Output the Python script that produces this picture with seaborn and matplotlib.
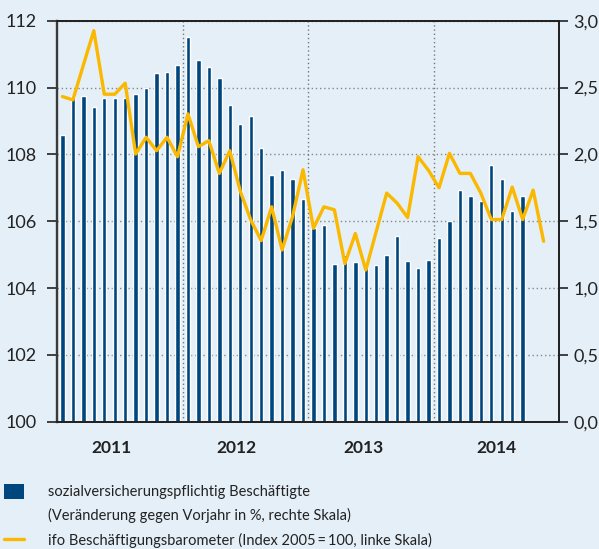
import numpy as np
import pandas as pd
import matplotlib
matplotlib.use("Agg")
import matplotlib.pyplot as plt
import seaborn as sns
from matplotlib.patches import Patch
from matplotlib.lines import Line2D
from matplotlib.ticker import FuncFormatter

# ===== FARBEN =====
bg_color = "#e5eff7"
bar_color = "#00467e"
line_color = "#fab800"

# ===== DATEN (monatlich ab Januar 2011) =====
# sozialversicherungspflichtig Beschaeftigte, Veraenderung gg. Vorjahr in % (rechte Skala)
beschaeftigte = [2.145, 2.44, 2.44, 2.354, 2.42, 2.424, 2.42, 2.45, 2.50, 2.606,
                 2.618, 2.666, 2.878, 2.708, 2.651, 2.571, 2.369, 2.225, 2.287, 2.048,
                 1.843, 1.883, 1.816, 1.666, 1.451, 1.472, 1.18, 1.247, 1.193, 1.148,
                 1.172, 1.247, 1.387, 1.205, 1.15, 1.212, 1.374, 1.504, 1.736, 1.689,
                 1.651, 1.918, 1.816, 1.579, 1.689]
# ifo Beschaeftigungsbarometer, Index 2005=100 (linke Skala)
ifo_index = [109.73, 109.63, 110.67, 111.70, 109.80, 109.80, 110.13, 108.01, 108.51, 108.11,
             108.51, 107.93, 109.21, 108.23, 108.41, 107.43, 108.11, 106.90, 106.04, 105.42,
             106.43, 105.14, 106.14, 107.54, 105.79, 106.43, 106.34, 104.73, 105.63, 104.54,
             105.69, 106.84, 106.54, 106.11, 107.93, 107.52, 107.00, 108.03, 107.43, 107.43,
             106.84, 106.05, 106.05, 107.02, 106.05, 106.93, 105.40]
jahre = ["2011", "2012", "2013", "2014"]
jahr_pos = [5.2, 17.1, 29.3, 42.0]
jahr_grenzen = [12, 24, 36]
left_ticks = [100, 102, 104, 106, 108, 110, 112]
right_ticks = [0.0, 0.5, 1.0, 1.5, 2.0, 2.5, 3.0]

df_bar = pd.DataFrame({"monat": np.arange(len(beschaeftigte)) + 0.5, "wert": beschaeftigte})
df_line = pd.DataFrame({"monat": np.arange(len(ifo_index)) + 0.5, "wert": ifo_index})

# ===== LAYOUT =====
sns.set_style("white")
plt.rcParams["font.family"] = ["Lato", "DejaVu Sans"]

fig = plt.figure(figsize=(5.99, 5.49), dpi=100, facecolor=bg_color)
ax = fig.add_axes([0.0955, 0.2319, 0.8382, 0.7304])
ax2 = ax.twinx()
ax.set_zorder(2)
ax2.set_zorder(1)
ax.patch.set_visible(False)
ax2.set_facecolor(bg_color)

# Balken (rechte Skala)
sns.barplot(data=df_bar, x="monat", y="wert", ax=ax2, native_scale=True,
            color=bar_color, saturation=1, width=0.42, errorbar=None)
# Linie (linke Skala)
sns.lineplot(data=df_line, x="monat", y="wert", ax=ax, color=line_color, lw=2.4)

ax.set_xlim(0, 48)
ax.set_ylim(100, 112)
ax2.set_ylim(0, 3.0)

ax.set_yticks(left_ticks)
ax2.set_yticks(right_ticks)
ax2.yaxis.set_major_formatter(FuncFormatter(lambda v, p: f"{v:.1f}".replace(".", ",")))

ax.set_xticks(jahr_pos)
ax.set_xticklabels(jahre, fontweight="bold", fontsize=12.5, color="#222222")
ax.set_xticks(jahr_grenzen, minor=True)
ax.tick_params(axis="x", which="both", length=0, pad=13)
ax.tick_params(axis="y", length=7.2, width=1.2, pad=7.5, labelsize=13, color="#222222", labelcolor="#222222")
ax2.tick_params(axis="y", length=6.5, width=1.2, pad=3.5, labelsize=13, color="#222222", labelcolor="#222222")

for a in (ax, ax2):
    a.set_xlabel("")
    a.set_ylabel("")

# Gitter: horizontal hinter den Balken, vertikal an den Jahresgrenzen
ax2.set_axisbelow(True)
ax2.grid(axis="y", linestyle=(0, (1, 2)), color="#888888", lw=1)
ax.set_axisbelow(True)
ax.grid(axis="x", which="minor", linestyle=(0, (1, 2)), color="#777777", lw=1)
ax.grid(axis="x", which="major", visible=False)

# Rahmen
for a in (ax, ax2):
    for s in a.spines.values():
        s.set_color("#222222")
        s.set_linewidth(1.3)
ax.spines["left"].set_linewidth(1.7)
ax.spines["left"].set_color("#3a3a3a")

# Legende
handles = [Patch(facecolor=bar_color, edgecolor="none"),
           Patch(facecolor="none", edgecolor="none"),
           Line2D([0], [0], color=line_color, lw=2.4)]
labels = ["sozialversicherungspflichtig Beschäftigte",
          "(Veränderung gegen Vorjahr in %, rechte Skala)",
          "ifo Beschäftigungsbarometer (Index 2005\u2009=\u2009100, linke Skala)"]
fig.legend(handles, labels, loc="upper left", bbox_to_anchor=(0.0, 0.127),
           frameon=False, fontsize=10.5, handlelength=1.35, handleheight=1.2,
           handletextpad=1.65, labelspacing=0.62, borderaxespad=0, borderpad=0.3,
           labelcolor="#222222")

plt.savefig("out.png", dpi=100, facecolor=bg_color)
